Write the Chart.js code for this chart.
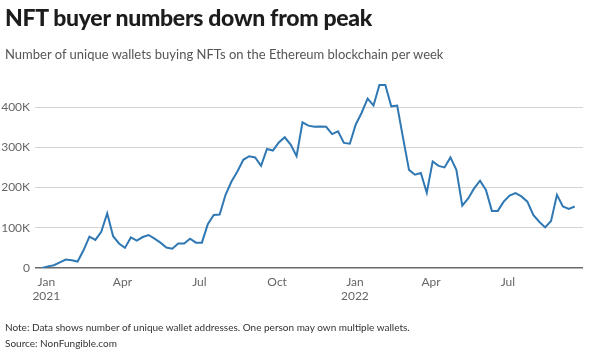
<!DOCTYPE html>
<html>
<head>
<meta charset="utf-8">
<script src="https://cdn.jsdelivr.net/npm/chart.js@4.4.0/dist/chart.umd.min.js"></script>
<style>
  html, body { margin: 0; padding: 0; background: #fff; }
  body { width: 590px; height: 354px; position: relative; overflow: hidden; font-family: Lato, "Noto Sans", sans-serif; }
  #wrap { position: absolute; left: 0; top: 0; width: 590px; height: 354px; }
  .txt { position: absolute; left: 5px; white-space: nowrap; }
  #title { top: 3px; font-size: 23px; font-weight: 900; color: #1c1c1c; letter-spacing: -0.3px; }
  #subtitle { top: 46px; font-size: 13px; color: #555; }
  #note { top: 321px; font-size: 10px; color: #333; }
  #source { top: 337px; font-size: 10px; color: #333; }
</style>
</head>
<body>
<div id="wrap"><canvas id="c" width="590" height="354"></canvas></div>
<div class="txt" id="title">NFT buyer numbers down from peak</div>
<div class="txt" id="subtitle">Number of unique wallets buying NFTs on the Ethereum blockchain per week</div>
<div class="txt" id="note">Note: Data shows number of unique wallet addresses. One person may own multiple wallets.</div>
<div class="txt" id="source">Source: NonFungible.com</div>
<script>
// Weekly series, first week starting 27 Dec 2020
const firstWeek = "2020-12-27";
const buyers = [
  0, 4000, 7000, 14000, 21000, 19000, 16000, 44000, 78000, 70000,
  90000, 136000, 79000, 61000, 50000, 76000, 68000, 77000, 82000, 73000,
  63000, 51000, 48000, 61000, 61000, 73000, 63000, 63000, 109000, 132000,
  133000, 182000, 215000, 240000, 269000, 278000, 275000, 254000, 296000, 292000,
  312000, 325000, 307000, 278000, 362000, 354000, 351000, 352000, 351000, 333000,
  340000, 311000, 309000, 357000, 386000, 421000, 404000, 455000, 455000, 402000,
  404000, 323000, 244000, 232000, 236000, 187000, 265000, 254000, 250000, 275000,
  244000, 155000, 173000, 198000, 217000, 194000, 142000, 142000, 165000, 180000,
  186000, 178000, 165000, 132000, 115000, 101000, 117000, 182000, 153000, 147000,
  153000
];
const tickDates = ["2021-01-01", "2021-04-01", "2021-07-01", "2021-10-01", "2022-01-01", "2022-04-01", "2022-07-01"];
const tickLabels = [["Jan", "2021"], "Apr", "Jul", "Oct", ["Jan", "2022"], "Apr", "Jul"];
const yTicks = [0, 100000, 200000, 300000, 400000];

const t0 = Date.parse(firstWeek + "T00:00:00Z");
const weekOf = d => (Date.parse(d + "T00:00:00Z") - t0) / (7 * 86400000);
const tickPos = tickDates.map(weekOf);
const points = buyers.map((v, i) => ({ x: i, y: v }));

new Chart(document.getElementById("c"), {
  type: "line",
  data: { datasets: [{
    data: points,
    borderColor: "#2f78b3",
    borderWidth: 2,
    pointRadius: 0,
    tension: 0,
    fill: false
  }]},
  options: {
    responsive: false,
    animation: false,
    events: [],
    layout: { padding: { left: 0, right: 7, top: 83, bottom: 0 } },
    plugins: { legend: { display: false }, tooltip: { enabled: false } },
    scales: {
      x: {
        type: "linear",
        min: -1.2,
        max: 91.4,
        afterBuildTicks: s => { s.ticks = tickPos.map(v => ({ value: v })); },
        afterFit: s => { s.height = 86; },
        grid: { display: false, drawTicks: false },
        border: { display: false },
        ticks: {
          padding: 7,
          maxRotation: 0,
          autoSkip: false,
          color: "#666",
          font: { family: "Lato, 'Noto Sans', sans-serif", size: 12 },
          callback: (v, i) => tickLabels[i]
        }
      },
      y: {
        min: 0,
        max: 460000,
        afterBuildTicks: s => { s.ticks = yTicks.map(v => ({ value: v })); },
        afterFit: s => { s.width = 35; },
        border: { display: false },
        grid: {
          drawTicks: false,
          color: c => c.tick && c.tick.value === 0 ? "#6a6a6a" : "#d4d4d4",
          lineWidth: c => c.tick && c.tick.value === 0 ? 1.5 : 1
        },
        ticks: {
          padding: 5,
          color: "#666",
          font: { family: "Lato, 'Noto Sans', sans-serif", size: 12 },
          callback: v => v === 0 ? "0" : (v / 1000) + "K"
        }
      }
    }
  }
});
</script>
</body>
</html>
